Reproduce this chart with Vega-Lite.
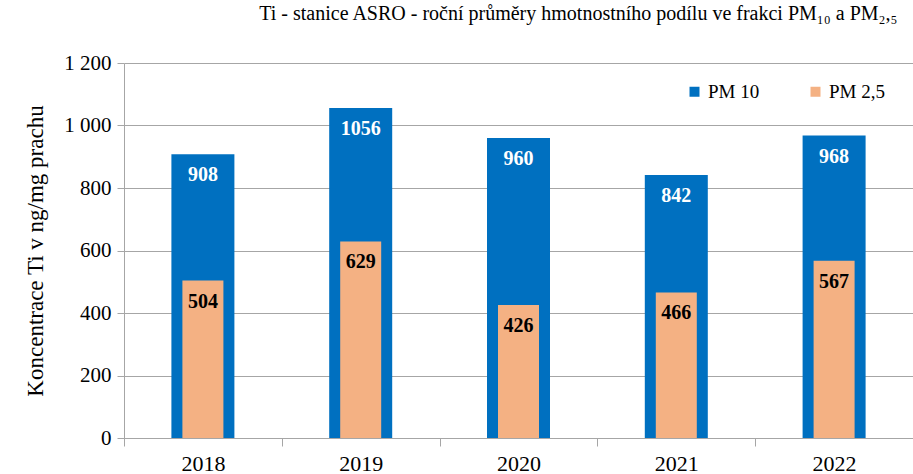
{
  "$schema": "https://vega.github.io/schema/vega-lite/v6.json",
  "width": 789,
  "height": 375,
  "autosize": {"type": "none"},
  "padding": {"left": 124, "top": 63, "right": 0, "bottom": 36},
  "background": "white",
  "title": {
    "text": "Ti - stanice ASRO - roční průměry hmotnostního podílu ve frakci PM₁₀ a PM₂,₅",
    "anchor": "end",
    "dx": -16,
    "offset": 28,
    "font": "Liberation Serif",
    "fontSize": 20,
    "fontWeight": "normal",
    "color": "#000000"
  },
  "data": {
    "values": [
      {"year": "2018", "series": "PM 10", "value": 908},
      {"year": "2019", "series": "PM 10", "value": 1056},
      {"year": "2020", "series": "PM 10", "value": 960},
      {"year": "2021", "series": "PM 10", "value": 842},
      {"year": "2022", "series": "PM 10", "value": 968},
      {"year": "2018", "series": "PM 2,5", "value": 504},
      {"year": "2019", "series": "PM 2,5", "value": 629},
      {"year": "2020", "series": "PM 2,5", "value": 426},
      {"year": "2021", "series": "PM 2,5", "value": 466},
      {"year": "2022", "series": "PM 2,5", "value": 567}
    ]
  },
  "config": {
    "view": {"stroke": null},
    "font": "Liberation Serif"
  },
  "encoding": {
    "x": {
      "field": "year",
      "type": "nominal",
      "title": null,
      "scale": {"paddingInner": 0, "paddingOuter": 0},
      "axis": {
        "labelAngle": 0,
        "labelFont": "Liberation Serif",
        "labelFontSize": 22,
        "labelColor": "#000000",
        "labelPadding": 7,
        "domainColor": "#A6A6A6",
        "tickColor": "#A6A6A6",
        "tickBand": "extent",
        "tickSize": 8,
        "grid": false
      }
    },
    "y": {
      "field": "value",
      "type": "quantitative",
      "scale": {"domain": [0, 1200], "nice": false},
      "title": "Koncentrace Ti v ng/mg prachu",
      "axis": {
        "values": [0, 200, 400, 600, 800, 1000, 1200],
        "labelExpr": "replace(format(datum.value, ','), ',', ' ')",
        "labelFont": "Liberation Serif",
        "labelFontSize": 21,
        "labelColor": "#000000",
        "labelPadding": 6,
        "titleFont": "Liberation Serif",
        "titleFontSize": 23,
        "titleFontWeight": "normal",
        "titleColor": "#000000",
        "titlePadding": 16,
        "domainColor": "#A6A6A6",
        "tickColor": "#A6A6A6",
        "tickSize": 7,
        "grid": true,
        "gridColor": "#A6A6A6"
      }
    }
  },
  "layer": [
    {
      "transform": [{"filter": "datum.series === 'PM 10'"}],
      "mark": {"type": "bar", "size": 63},
      "encoding": {
        "color": {
          "field": "series",
          "type": "nominal",
          "scale": {"domain": ["PM 10", "PM 2,5"], "range": ["#0070C0", "#F4B183"]},
          "legend": {
            "title": null,
            "orient": "none",
            "legendX": 561,
            "legendY": 19,
            "direction": "horizontal",
            "symbolType": "square",
            "symbolSize": 100,
            "symbolStrokeWidth": 0,
            "labelFont": "Liberation Serif",
            "labelFontSize": 19,
            "labelColor": "#000000",
            "columnPadding": 46,
            "labelOffset": 4
          }
        }
      }
    },
    {
      "transform": [{"filter": "datum.series === 'PM 2,5'"}],
      "mark": {"type": "bar", "size": 41},
      "encoding": {
        "color": {"field": "series", "type": "nominal"}
      }
    },
    {
      "transform": [{"filter": "datum.series === 'PM 10'"}],
      "mark": {"type": "text", "dy": 21, "baseline": "middle", "fontWeight": "bold", "fontSize": 20, "color": "white", "font": "Liberation Serif"},
      "encoding": {"text": {"field": "value", "type": "quantitative"}}
    },
    {
      "transform": [{"filter": "datum.series === 'PM 2,5'"}],
      "mark": {"type": "text", "dy": 21, "baseline": "middle", "fontWeight": "bold", "fontSize": 20, "color": "black", "font": "Liberation Serif"},
      "encoding": {"text": {"field": "value", "type": "quantitative"}}
    }
  ]
}
